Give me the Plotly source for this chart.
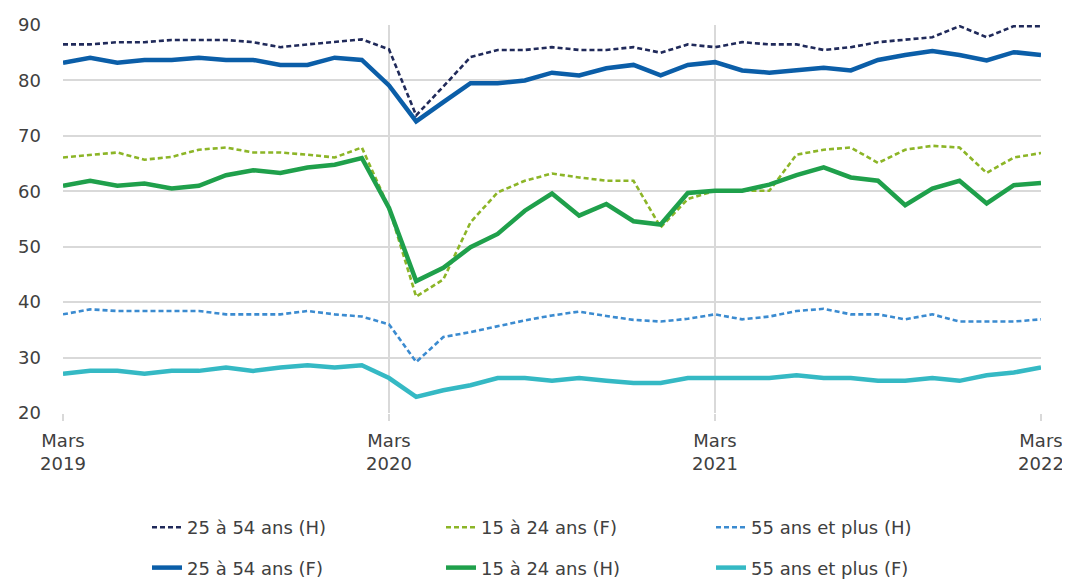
import plotly.graph_objects as go

months = [
    "2019-03", "2019-04", "2019-05", "2019-06", "2019-07", "2019-08", "2019-09", "2019-10", "2019-11", "2019-12",
    "2020-01", "2020-02", "2020-03", "2020-04", "2020-05", "2020-06", "2020-07", "2020-08", "2020-09", "2020-10",
    "2020-11", "2020-12", "2021-01", "2021-02", "2021-03", "2021-04", "2021-05", "2021-06", "2021-07", "2021-08",
    "2021-09", "2021-10", "2021-11", "2021-12", "2022-01", "2022-02", "2022-03",
]

h_25_54 = [86.5, 86.5, 86.9, 86.9, 87.3, 87.3, 87.3, 86.9, 86.0, 86.5, 86.9, 87.4, 85.6, 73.7, 78.9, 84.2, 85.5, 85.5,
           86.0, 85.5, 85.5, 86.0, 85.0, 86.5, 86.0, 86.9, 86.5, 86.5, 85.5, 86.0, 86.9, 87.4, 87.8, 89.8, 87.8, 89.8, 89.8]
f_25_54 = [83.2, 84.1, 83.2, 83.7, 83.7, 84.1, 83.7, 83.7, 82.8, 82.8, 84.1, 83.7, 79.1, 72.6, 76.1, 79.5, 79.5, 80.0,
           81.4, 80.9, 82.2, 82.8, 80.9, 82.8, 83.3, 81.8, 81.4, 81.8, 82.3, 81.8, 83.7, 84.6, 85.3, 84.6, 83.6, 85.1, 84.6]
f_15_24 = [66.1, 66.6, 67.0, 65.7, 66.2, 67.5, 67.9, 67.0, 67.0, 66.6, 66.1, 67.9, 57.0, 41.0, 44.1, 54.4, 59.8, 61.9,
           63.2, 62.5, 61.9, 61.9, 53.5, 58.6, 60.1, 60.1, 60.1, 66.6, 67.5, 67.9, 65.1, 67.5, 68.2, 67.9, 63.3, 66.1, 66.9]
h_15_24 = [61.0, 61.9, 61.0, 61.4, 60.5, 61.0, 62.9, 63.8, 63.3, 64.3, 64.8, 66.0, 57.0, 43.8, 46.2, 49.9, 52.3, 56.5,
           59.6, 55.6, 57.7, 54.6, 54.0, 59.7, 60.1, 60.1, 61.2, 62.9, 64.3, 62.5, 61.9, 57.5, 60.5, 61.9, 57.8, 61.1, 61.5]
h_55 = [37.8, 38.7, 38.4, 38.4, 38.4, 38.4, 37.8, 37.8, 37.8, 38.4, 37.8, 37.4, 36.0, 29.2, 33.7, 34.6, 35.7, 36.7,
        37.6, 38.3, 37.5, 36.8, 36.5, 37.0, 37.8, 36.9, 37.4, 38.4, 38.8, 37.8, 37.8, 36.9, 37.8, 36.5, 36.5, 36.5, 36.9]
f_55 = [27.1, 27.6, 27.6, 27.1, 27.6, 27.6, 28.2, 27.6, 28.2, 28.6, 28.2, 28.6, 26.3, 22.9, 24.1, 25.0, 26.3, 26.3,
        25.8, 26.3, 25.8, 25.4, 25.4, 26.3, 26.3, 26.3, 26.3, 26.8, 26.3, 26.3, 25.8, 25.8, 26.3, 25.8, 26.8, 27.3, 28.2]

tick_months = ["2019-03", "2020-03", "2021-03", "2022-03"]
tick_text = ["Mars<br>2019", "Mars<br>2020", "Mars<br>2021", "Mars<br>2022"]
y_ticks = [20, 30, 40, 50, 60, 70, 80, 90]

FONT = "DejaVu Sans"
TXT = "#404040"
GRID = "#d9d9d9"
FS = 18

# page body has an 8px default margin; figure sized to fit the 1070x579 window
W, H = 1062, 571

series = [
    # name, values, color, width, dash, legend
    ("25 à 54 ans (H)", h_25_54, "#202a5a", 2.6, "5px,3px", "legend"),
    ("15 à 24 ans (F)", f_15_24, "#8cb527", 2.6, "5px,3px", "legend2"),
    ("55 ans et plus (H)", h_55, "#3b8bd0", 2.6, "5px,3px", "legend3"),
    ("25 à 54 ans (F)", f_25_54, "#0b5ea8", 4.5, "solid", "legend"),
    ("15 à 24 ans (H)", h_15_24, "#1fa04b", 4.5, "solid", "legend2"),
    ("55 ans et plus (F)", f_55, "#35b9c4", 4.5, "solid", "legend3"),
]

fig = go.Figure()
for i, (name, vals, color, width, dash, leg) in enumerate(series):
    fig.add_trace(go.Scatter(
        x=months, y=vals, name=name, mode="lines",
        line=dict(color=color, width=width, dash=dash),
        legend=leg, legendgroup=f"g{i}",
    ))

leg_common = dict(orientation="v", xanchor="left", yanchor="top",
                  xref="container", yref="container",
                  font=dict(family=FONT, size=FS, color=TXT),
                  bgcolor="rgba(0,0,0,0)", tracegroupgap=14, itemwidth=30)
leg_y = 1 - 501 / H

fig.update_layout(
    width=W, height=H,
    margin=dict(l=55, r=29, t=17, b=166, autoexpand=False),
    paper_bgcolor="white", plot_bgcolor="white",
    font=dict(family=FONT, size=FS, color=TXT),
    xaxis=dict(
        type="category", categoryorder="array", categoryarray=months,
        range=[0, len(months) - 1],
        tickmode="array", tickvals=tick_months, ticktext=tick_text,
        showgrid=True, gridcolor=GRID, gridwidth=2,
        ticks="outside", ticklen=7, tickwidth=2, tickcolor=GRID,
        ticklabelstandoff=4,
        showline=False, zeroline=False, automargin=False,
        tickfont=dict(family=FONT, size=FS, color=TXT),
    ),
    yaxis=dict(
        range=[20, 90], tickmode="array", tickvals=y_ticks,
        showgrid=True, gridcolor=GRID, gridwidth=2,
        showline=False, zeroline=False, ticks="", automargin=False,
        ticklabelstandoff=21,
        tickfont=dict(family=FONT, size=FS, color=TXT),
    ),
    legend=dict(x=139 / W, y=leg_y, **leg_common),
    legend2=dict(x=433 / W, y=leg_y, **leg_common),
    legend3=dict(x=703 / W, y=leg_y, **leg_common),
    showlegend=True,
)

fig.write_html("out.html")
